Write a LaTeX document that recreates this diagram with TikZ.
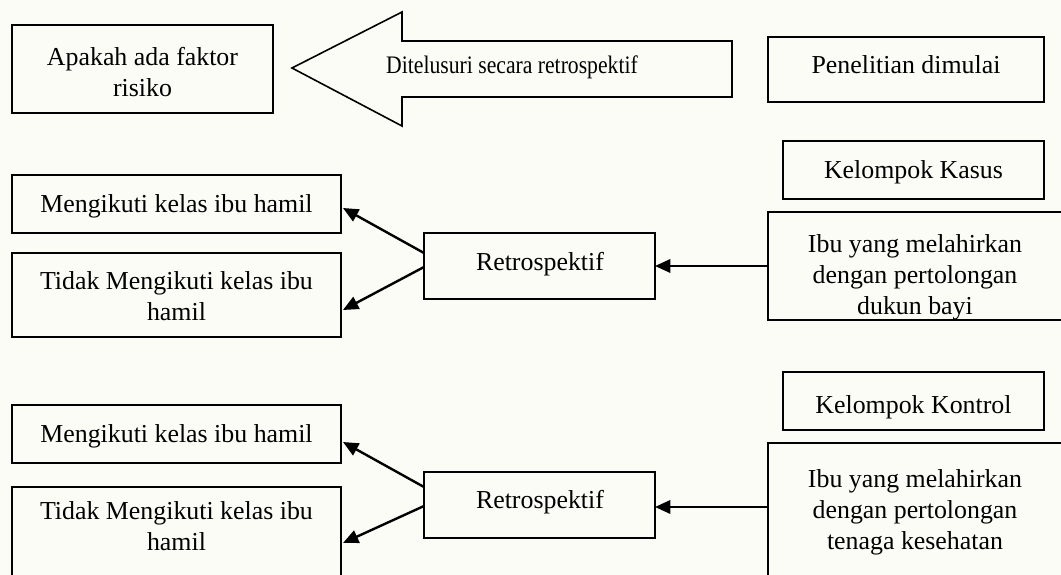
\documentclass[tikz,border=0pt]{standalone}
\usepackage{fontspec}
\setmainfont{Liberation Serif}
\newfontfamily\narrowserif[FakeStretch=0.86]{Liberation Serif}
\usetikzlibrary{arrows.meta,calc}
\definecolor{paper}{RGB}{252,252,246}
\begin{document}
\begin{tikzpicture}[x=0.75pt,y=-0.75pt,
  bx/.style n args={2}{draw, line width=1.3pt, minimum width=#1*0.75pt,
    minimum height=#2*0.75pt, inner sep=0pt, outer sep=0pt},
  lbl/.style={font=\fontsize{19.4pt}{23.25pt}\selectfont, inner sep=0pt, align=center},
  one/.style={lbl, text height=13.2pt, text depth=4.3pt},
  arr/.style={line width=1.8pt, -{Triangle[length=11.5pt,width=10pt]}}]

% page
\fill[paper] (0,0) rectangle (1061,575);
\useasboundingbox (0,0) rectangle (1061,575);
\clip (0,0) rectangle (1061,575);

% top row
\node[bx={261}{88}] (apakah) at (142.5,69) {};
\node[lbl] (apakahT) at (142.5,72) {Apakah ada faktor\\risiko};

\draw[line width=1.2pt, line join=miter]
  (292,68) -- (402,12) -- (402,41) -- (732,41) -- (732,97)
  -- (402,97) -- (402,126) -- cycle;
\node[inner sep=0pt, font=\narrowserif\fontsize{18.9pt}{22pt}\selectfont,
  text height=12.9pt, text depth=4.2pt] (telusur) at (512,68)
  {Ditelusuri secara retrospektif};

\node[bx={276}{65}] (mulai) at (906,69.5) {};
\node[one] (mulaiT) at (906,67.5) {Penelitian dimulai};

% case group
\node[bx={261}{58}] (kasus) at (913.5,170) {};
\node[one] (kasusT) at (913.5,172.5) {Kelompok Kasus};

\node[bx={296}{108}] (dukun) at (916,266) {};
\node[lbl] (dukunT) at (915,277) {Ibu yang melahirkan\\dengan pertolongan\\dukun bayi};

\node[bx={231}{66}] (retroA) at (539.5,266) {};
\node[one] (retroAT) at (540,264.5) {Retrospektif};

\node[bx={329}{58}] (ikutA) at (176.5,204) {};
\node[one] (ikutAT) at (176.5,207) {Mengikuti kelas ibu hamil};

\node[bx={329}{84}] (tidakA) at (176.5,295) {};
\node[lbl] (tidakAT) at (176.5,296) {Tidak Mengikuti kelas ibu\\hamil};

% control group
\node[bx={261}{58}] (kontrol) at (913.5,401) {};
\node[one] (kontrolT) at (913.5,407.5) {Kelompok Kontrol};

\node[bx={296}{137}] (nakes) at (916,511.5) {};
\node[lbl] (nakesT) at (915,512.5) {Ibu yang melahirkan\\dengan pertolongan\\tenaga kesehatan};

\node[bx={231}{66}] (retroB) at (539.5,505) {};
\node[one] (retroBT) at (540,502.5) {Retrospektif};

\node[bx={329}{58}] (ikutB) at (176.5,434) {};
\node[one] (ikutBT) at (176.5,437) {Mengikuti kelas ibu hamil};

\node[bx={329}{93}] (tidakB) at (176.5,533.5) {};
\node[lbl] (tidakBT) at (176.5,526) {Tidak Mengikuti kelas ibu\\hamil};

% connectors
\draw[arr] (dukun.west) -- (retroA.east);
\draw[arr] ($(retroA.west)+(0,-13)$) -- ($(ikutA.east)+(2,4)$);
\draw[arr] ($(retroA.west)+(0,1)$) -- ($(tidakA.east)+(2,15)$);

\coordinate (inB) at ($(retroB.east)+(0,2)$);
\draw[arr] (inB -| nakes.west) -- (inB);
\draw[arr] ($(retroB.west)+(0,-18)$) -- ($(ikutB.east)+(2,8)$);
\draw[arr] ($(retroB.west)+(0,1)$) -- ($(tidakB.east)+(2,9.5)$);
\end{tikzpicture}
\end{document}
